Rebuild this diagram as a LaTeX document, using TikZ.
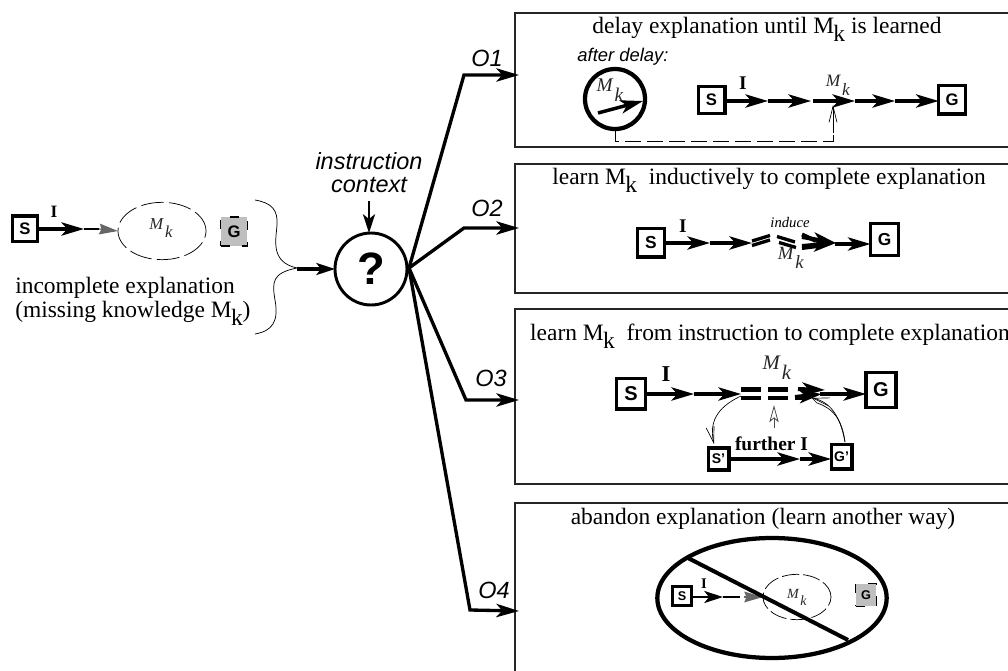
\documentclass[tikz,border=0pt]{standalone}
\usepackage{fontspec}
\setmainfont{Liberation Serif}
\setsansfont{Liberation Sans}
\usetikzlibrary{arrows.meta,shapes.geometric,calc}
\newcommand{\MkUp}[1][0.75ex]{M\kern-0.5pt\raisebox{-#1}{k}}
\newcommand{\MkIt}[1][1.1ex]{\textit{M}\kern0.8pt\raisebox{-#1}{\textit{k}}}
\tikzset{
  x=0.75pt,y=-0.75pt,
  panel/.style={draw=black!85,line width=0.9pt,inner sep=0,outer sep=0,anchor=north west},
  title/.style={font=\fontsize{17.6}{17.6}\selectfont,inner sep=0},
  sanslab/.style={font=\fontsize{17.6}{17.6}\selectfont\sffamily\itshape,inner sep=0},
  mklab/.style={font=\fontsize{#1}{#1}\selectfont,inner sep=0,text=black!85},
  ilab/.style={font=\fontsize{#1}{#1}\selectfont\bfseries,inner sep=0},
  sbox/.style={draw,line width=2.5pt,fill=white,inner sep=0,outer sep=0,font=\bfseries\sffamily\fontsize{#1}{#1}\selectfont},
  gbox/.style={draw,line width=1.2pt,dash pattern=on 7pt off 9pt,fill=black!25,inner sep=0,outer sep=0,font=\bfseries\sffamily\fontsize{#1}{#1}\selectfont},
  gap/.style={draw,dash pattern=on 17pt off 4pt,line width=0.55pt,ellipse,inner sep=0,outer sep=0},
  head/.style={-{Stealth[length=17pt,width=10pt,inset=4.5pt]},line width=2.3pt},
  shead/.style={-{Stealth[length=14pt,width=9pt,inset=3.5pt]},line width=1.8pt},
  grayhead/.style={line width=0.9pt,draw=black!60,-{Stealth[length=14pt,width=8pt,inset=1.5pt]}},
  route/.style={line width=2.5pt,line join=miter},
  fine/.style={line width=0.5pt,-{Straight Barb[length=12pt,width=6pt]}},
  openup/.style={line width=0.6pt,draw=black!70,-{Stealth[open,length=13pt,width=7pt,inset=3pt]}},
  bar/.style={line width=2.5pt},
}
\begin{document}
\begin{tikzpicture}
\useasboundingbox (0,0) rectangle (1008,671);
\clip (0,0) rectangle (1008,671);
% panels
\node[panel,minimum width=540*0.75pt,minimum height=134*0.75pt] (p1) at (515,13) {};
\node[panel,minimum width=540*0.75pt,minimum height=129*0.75pt] (p2) at (515,164) {};
\node[panel,minimum width=540*0.75pt,minimum height=175*0.75pt,line width=1.2pt] (p3) at (515,309) {};
\node[panel,minimum width=540*0.75pt,minimum height=200*0.75pt] (p4) at (515,503) {};
% left explanation
\node[sbox=12.5,minimum width=19pt,minimum height=19pt] (s0) at (25,228.5) {S};
\node[gbox=12.5,minimum width=20pt,minimum height=22pt] (g0) at (234,231.5) {G};
\node[gap,minimum width=66pt,minimum height=43pt] (m0) at (162,231) {};
\node[mklab=12.5] (mk0) at (161,228) {\MkIt};
\node[ilab=13] (i0) at (54,212) {I};
\coordinate (a0) at (84,229);
\draw[head] (s0.east|-a0) -- (a0);
\draw[line width=0.9pt] (a0) -- (99,229);
\draw[grayhead] (99,229) -- (m0.west);
\node[font=\fontsize{17.6}{19}\selectfont,align=left,anchor=north west,inner sep=0] (txt) at (15,277) {incomplete explanation\\[-1pt](missing knowledge \MkUp)};
% brace
\coordinate (b1) at (255,200); \coordinate (b2) at (297,268); \coordinate (b3) at (255,334);
\draw[line width=0.55pt] (b1) .. controls (272,203) and (278,210) .. (277,225) .. controls (276,240) and (270,262) .. (b2)
  .. controls (272,273) and (272,282) .. (275,300) .. controls (279,322) and (272,331) .. (b3);
% hub
\node[circle,draw,line width=2.2pt,minimum size=54pt,inner sep=0,outer sep=0,font=\bfseries\sffamily\fontsize{34}{34}\selectfont] (hub) at (371,269) {?};
\node[sanslab,align=center] (ctx) at (369,172.5) {instruction\\[0pt]context};
\coordinate (c0) at (369,201);
\draw[shead,line width=2pt] (c0) -- (hub.north-|c0);
\draw[shead,line width=2.5pt] (b2) ++(0,1) -- (hub.west);
% routes
\coordinate (e1) at (464,75); \coordinate (e2) at (464,228); \coordinate (e3) at (466,400); \coordinate (e4) at (470,610);
\coordinate (t1) at (519,75); \coordinate (t2) at (519,228); \coordinate (t3) at (519,400); \coordinate (t4) at (519,611);
\coordinate (hr) at (409,268);
\foreach \n in {1,2,3,4}{
  \draw[head,route] (hr) -- (e\n) -- (t\n);
}
\node[sanslab] (o1) at (487,58) {O1};
\node[sanslab] (o2) at (487,208) {O2};
\node[sanslab] (o3) at (491,378) {O3};
\node[sanslab] (o4) at (494,590) {O4};
% O1
\node[title] (t1a) at (767,29) {delay explanation until \MkUp\ is learned};
\node[font=\fontsize{13.8}{13.8}\selectfont\sffamily\itshape,inner sep=0] (ad) at (623,57) {after delay:};
\node[circle,draw,line width=3.2pt,minimum size=45pt,inner sep=0,outer sep=0] (cl) at (615,99) {};
\node[mklab=14.5] (mk1) at (610,90) {\MkIt};
\coordinate (h1) at (598,113);
\draw[head,line width=2.6pt] (h1) -- (643,101);
\node[sbox=12.5,minimum width=20pt,minimum height=20pt] (s1) at (711.5,100) {S};
\node[sbox=12.5,minimum width=20pt,minimum height=21.5pt] (g1) at (952,99.5) {G};
\node[ilab=14.5] (i1) at (743,83) {I};
\node[mklab=13] (mk1b) at (838,85) {\MkIt};
\coordinate (k1) at (768,101); \coordinate (k2) at (811,101); \coordinate (k3) at (855,101); \coordinate (k4) at (895,101);
\draw[head] (s1.east|-k1) -- (k1);
\draw[head] (k1) -- (k2);
\draw[head] (k2) ++(2,0) -- (k3);
\draw[head] (k3) -- (k4);
\draw[head] (k4) -- (g1.west|-k4);
\coordinate (d0) at (833,133);
\draw[dash pattern=on 12pt off 4.5pt,line width=0.6pt] (cl.south) -- (cl.south|-0,141) -- (d0|-0,141) -- (d0);
\draw[fine] (d0) -- (833,105);
% O2
\node[title] (t2a) at (769,180) {learn \MkUp\ \ inductively to complete explanation};
\node[sbox=13,minimum width=20.5pt,minimum height=21.5pt] (s2) at (651,242.5) {S};
\node[sbox=13,minimum width=21pt,minimum height=24pt] (g2) at (884.5,239.5) {G};
\node[ilab=14.5] (i2) at (683,226) {I};
\node[font=\fontsize{11}{11}\selectfont\itshape,inner sep=0] (ind) at (790,222) {induce};
\node[mklab=14] (mk2) at (791,258) {\MkIt};
\coordinate (k5) at (710,243); \coordinate (k6) at (752,243); \coordinate (k7) at (835,244);
\draw[head] (s2.east|-k5) -- (k5);
\draw[head] (k5) -- (k6);
\draw[bar] (752,241) -- (770,235.5);
\draw[bar] (752,245.5) -- (770,240);
\draw[bar] (777,236.5) -- (795,242);
\draw[bar] (779,242.5) -- (796,247.5);
\draw[head,line width=3pt] (802,237) -- (836,243);
\draw[head,line width=3pt] (802,246) -- (836,243);
\draw[bar,line width=3pt] (802,234.5) -- (816,241);
\draw[bar,line width=3pt] (802,248) -- (818,246);
\draw[head] (k7) -- (g2.west|-k7);
% O3
\node[title] (t3a) at (770,336) {learn \MkUp\ \ from instruction to complete explanation};
\node[sbox=15,minimum width=21.5pt,minimum height=23pt] (s3) at (631,393.5) {S};
\node[sbox=15,minimum width=22.5pt,minimum height=26.5pt] (g3) at (881,390) {G};
\node[ilab=17] (i3) at (666,374) {I};
\node[mklab=15.5] (mk3) at (777,368) {\MkIt};
\coordinate (k8) at (694,394); \coordinate (k9) at (741,394); \coordinate (k10) at (820,394);
\draw[head] (s3.east|-k8) -- (k8);
\draw[head] (k8) -- (k9);
\draw[bar,line width=3.2pt] (741,389.5) -- (761,389.5); \draw[bar,line width=3.2pt] (741,398) -- (761,398);
\draw[bar,line width=3.2pt] (768,389.5) -- (788,389.5); \draw[bar,line width=3.2pt] (768,398) -- (788,398);
\draw[bar,line width=3.2pt] (795,398) -- (806,398);
\draw[head,line width=3pt] (798,389) -- (825,390);
\draw[head,line width=3pt] (795,397) -- (822,394);
\draw[head] (k10) -- (g3.west|-k10);
\draw[openup] (774,428) -- (774,405);
\node[sbox=10.5,minimum width=15.5pt,minimum height=16.5pt] (s3b) at (718.5,459) {S'};
\node[sbox=10.5,minimum width=15.5pt,minimum height=18.5pt] (g3b) at (841.5,456.5) {G'};
\node[ilab=14.6] (fi) at (771.5,444) {further I};
\coordinate (k11) at (800,459);
\draw[head] (s3b.east|-k11) -- (k11);
\draw[head] (k11) -- (g3b.west|-k11);
\draw[fine] (741,396) .. controls (722,405) and (708,418) .. (714,444);
\draw[fine] (845,442) .. controls (840,415) and (830,402) .. (812,398);
\draw[line width=0.5pt] (845,442) .. controls (842,418) and (832,408) .. (817,403) -- (812,398);
% O4
\node[title] (t4a) at (763,519) {abandon explanation (learn another way)};
\node[draw,ellipse,line width=3.2pt,minimum width=172pt,minimum height=90pt,inner sep=0,outer sep=0] (big) at (772,598) {};
\node[sbox=9.5,minimum width=14.5pt,minimum height=14.5pt,line width=2pt] (s4) at (682,596) {S};
\node[gbox=9.5,minimum width=15.5pt,minimum height=17pt] (g4) at (866,595) {G};
\node[gap,dash pattern=on 13pt off 3pt,minimum width=51pt,minimum height=34pt] (m4) at (797,597) {};
\node[mklab=10.5] (mk4) at (797,597) {\MkIt};
\node[ilab=11] (i4) at (704,584) {I};
\coordinate (k12) at (723,597); \coordinate (k13) at (740,597);
\draw[shead] (s4.east|-k12) -- (k12);
\draw[line width=0.9pt] (k12) -- (k13);
\draw[grayhead] (744,597) -- (m4.west);
\draw[line width=3pt] (688,558) -- (848,640);
\end{tikzpicture}
\end{document}
